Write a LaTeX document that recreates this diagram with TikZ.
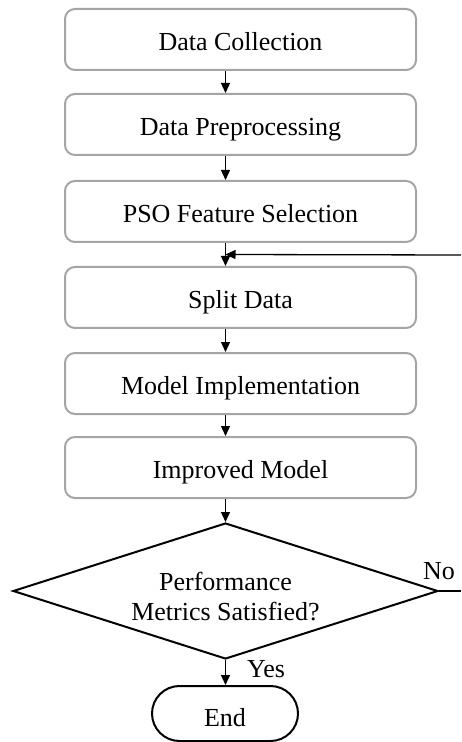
\documentclass[tikz,border=0pt]{standalone}
\usepackage{fontspec}
\setmainfont{Liberation Serif}
\usetikzlibrary{shapes.geometric,arrows.meta,calc}
\definecolor{boxgray}{RGB}{165,165,165}
\tikzset{
  stepbox/.style={draw=boxgray, line width=1pt, rounded corners=5pt,
    minimum width=175.5pt, minimum height=30.5pt, inner sep=0pt,
    text height=10.8pt, text depth=0pt,
    font=\fontsize{13pt}{15pt}\selectfont},
  decision/.style={draw=black, line width=1pt, diamond, inner sep=0pt,
    minimum width=212.5pt, minimum height=68pt},
  terminal/.style={draw=black, line width=1pt, rounded corners=13.75pt,
    minimum width=73pt, minimum height=27.5pt, inner sep=0pt,
    text height=12.5pt, text depth=0pt,
    font=\fontsize{13pt}{15pt}\selectfont},
  lbl/.style={inner sep=0pt, font=\fontsize{13pt}{15pt}\selectfont},
  flow/.style={draw=black, line width=0.65pt, -{Triangle[length=5pt,width=4.5pt]}},
  plain/.style={draw=black, line width=0.65pt}
}
\begin{document}
\begin{tikzpicture}[x=0.5pt, y=-0.5pt]
\useasboundingbox (0,0) rectangle (461,742);

% process steps
\node[stepbox] (b1) at (240.5,39.5)  {Data Collection};
\node[stepbox] (b2) at (240.5,124.5) {Data Preprocessing};
\node[stepbox] (b3) at (240.5,211.5) {PSO Feature Selection};
\node[stepbox] (b4) at (240.5,297.5) {Split Data};
\node[stepbox] (b5) at (240.5,383.5) {Model Implementation};
\node[stepbox] (b6) at (240.5,467.5) {Improved Model};

% decision and end
\node[decision] (dec) at (225.5,591) {};
\node[lbl, align=center] (dtext) at (225.5,597) {Performance\\Metrics Satisfied?};
\node[terminal] (end) at (225,713.5) {End};

\node[lbl] (no) at (439,571) {No};
\node[lbl] (yes) at (266,669) {Yes};

% loose ends of the feedback loop
\coordinate (fbin) at (461,255);
\coordinate (noout) at (461,591);
\coordinate (join) at ($(b3.south -| dec.north)!0.5!(b4.north -| dec.north)$);

% connectors
\draw[flow] (b1.south -| dec.north) -- (b2.north -| dec.north);
\draw[flow] (b2.south -| dec.north) -- (b3.north -| dec.north);
\draw[flow] (b3.south -| dec.north) -- (b4.north -| dec.north);
\draw[flow] (b4.south -| dec.north) -- (b5.north -| dec.north);
\draw[flow] (b5.south -| dec.north) -- (b6.north -| dec.north);
\draw[flow] (b6.south -| dec.north) -- (dec.north);
\draw[flow] (dec.south) -- (end.north -| dec.south);
\draw[plain] (dec.east) -- (noout);
\draw[flow] (fbin) -- (join);
\end{tikzpicture}
\end{document}
